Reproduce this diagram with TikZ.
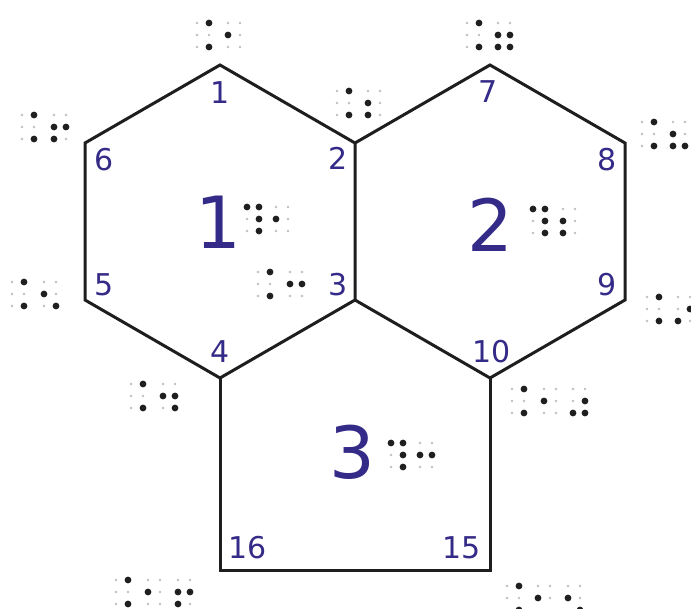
\documentclass[tikz,border=0pt]{standalone}
\usepackage{fontspec}
\setmainfont{DejaVu Sans}
\definecolor{lab}{RGB}{52,42,135}
\definecolor{edge}{RGB}{30,30,30}
\tikzset{
  edgeline/.style={draw=edge,line width=3pt,line join=miter},
  vlab/.style={text=lab,inner sep=0pt,font=\fontsize{30}{30}\selectfont},
  bigl/.style={text=lab,inner sep=0pt,font=\fontsize{72}{72}\selectfont},
  faintdot/.style={fill=black!25},
  darkdot/.style={fill=black!88}
}
\newcommand\brcell[3]{%
  \foreach \k in {1,...,6}{%
    \pgfmathtruncatemacro\cc{(\k-1)/3}%
    \pgfmathtruncatemacro\rr{\k-1-3*\cc}%
    \fill[faintdot] (#1+\cc*12, #2+\rr*12) circle[radius=1.4pt];
  }%
  \foreach \k in {#3}{%
    \pgfmathtruncatemacro\cc{(\k-1)/3}%
    \pgfmathtruncatemacro\rr{\k-1-3*\cc}%
    \fill[darkdot] (#1+\cc*12, #2+\rr*12) circle[radius=3.4pt];
  }%
}
\begin{document}
\begin{tikzpicture}[x=1pt,y=-1pt]
\useasboundingbox (0,0) rectangle (691,609);
\clip (0,0) rectangle (691,609);
\fill[white] (0,0) rectangle (691,609);
% vertices
\coordinate (v1) at (220,65);
\coordinate (v2) at (355,143);
\coordinate (v3) at (355,300);
\coordinate (v4) at (220,378);
\coordinate (v5) at (85,300);
\coordinate (v6) at (85,143);
\coordinate (v7) at (490,65);
\coordinate (v8) at (625,143);
\coordinate (v9) at (625,300);
\coordinate (v10) at (490,378);
\coordinate (v15) at (490,570);
\coordinate (v16) at (220,570);
% edges
\draw[edgeline] (v1) -- (v2) -- (v3) -- (v4) -- (v5) -- (v6) -- cycle;
\draw[edgeline] (v2) -- (v7) -- (v8) -- (v9) -- (v10) -- (v3);
\draw[edgeline] (v4) -- (v16) -- (v15) -- (v10);
% vertex labels
\node[vlab] (l1) at (220,93) {1};
\node[vlab] (l2) at (338,158) {2};
\node[vlab] (l3) at (338,285) {3};
\node[vlab] (l4) at (220,352) {4};
\node[vlab] (l5) at (104,285) {5};
\node[vlab] (l6) at (104,160) {6};
\node[vlab] (l7) at (488,92) {7};
\node[vlab] (l8) at (607,160) {8};
\node[vlab] (l9) at (607,285) {9};
\node[vlab] (l10) at (492,352) {10};
\node[vlab] (l15) at (462,548) {15};
\node[vlab] (l16) at (248,548) {16};
% face labels
\node[bigl] (f1) at (218,222) {1};
\node[bigl] (f2) at (490,225) {2};
\node[bigl] (f3) at (352,452) {3};
% braille
\brcell{197}{23}{4,6}\brcell{228}{23}{2}
\brcell{467}{23}{4,6}\brcell{498}{23}{2,3,5,6}
\brcell{22}{115}{4,6}\brcell{54}{115}{2,3,5}
\brcell{337}{91}{4,6}\brcell{368}{91}{2,3}
\brcell{642}{122}{4,6}\brcell{673}{122}{2,3,6}
\brcell{247}{207}{1,4,5,6}\brcell{276}{207}{2}
\brcell{533}{209}{1,4,5,6}\brcell{563}{209}{2,3}
\brcell{12}{282}{4,6}\brcell{44}{282}{2,6}
\brcell{258}{272}{4,6}\brcell{290}{272}{2,5}
\brcell{647}{297}{4,6}\brcell{678}{297}{3,5}
\brcell{131}{384}{4,6}\brcell{163}{384}{2,5,6}
\brcell{512}{389}{4,6}\brcell{544}{389}{2}\brcell{573}{389}{3,5,6}
\brcell{391}{443}{1,4,5,6}\brcell{420}{443}{2,5}
\brcell{116}{580}{4,6}\brcell{148}{580}{2}\brcell{178}{580}{2,3,5}
\brcell{507}{586}{4,6}\brcell{538}{586}{2}\brcell{568}{586}{2,6}
\end{tikzpicture}
\end{document}
